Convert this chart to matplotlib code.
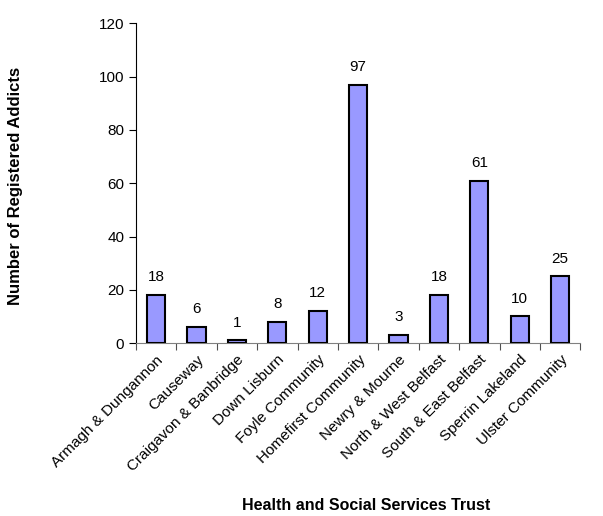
import numpy as np
from matplotlib import pyplot as plt

trusts = ['Armagh & Dungannon', 'Causeway', 'Craigavon & Banbridge', 'Down Lisburn',
          'Foyle Community', 'Homefirst Community', 'Newry & Mourne', 'North & West Belfast',
          'South & East Belfast', 'Sperrin Lakeland', 'Ulster Community']
addicts = [18, 6, 1, 8, 12, 97, 3, 18, 61, 10, 25]

plt.rcParams['font.family'] = ['Liberation Sans', 'DejaVu Sans']

fig = plt.figure(figsize=(6.03, 5.16), dpi=100)
ax = fig.add_axes([0.2255, 0.335, 0.737, 0.62])

x = np.arange(len(trusts))
ax.bar(x, addicts, width=0.45, color='#9999ff', edgecolor='black', linewidth=1.5, zorder=3)
for xi, v in zip(x, addicts):
    ax.text(xi, v + 4, str(v), ha='center', va='bottom', fontsize=11)

ax.set_xlim(-0.5, len(trusts) - 0.5)
ax.set_ylim(0, 120)
ax.set_yticks(range(0, 121, 20))
ax.set_xticks(x)
ax.set_xticklabels(trusts, rotation=45, ha='right', rotation_mode='anchor', fontsize=11)
ax.set_xticks(np.arange(-0.5, len(trusts), 1), minor=True)
ax.tick_params(axis='x', which='major', length=0, pad=7)
ax.tick_params(axis='x', which='minor', length=5, direction='out', width=0.8, color='#505050')
ax.tick_params(axis='y', length=5, direction='out', labelsize=11, width=0.8)
ax.spines['top'].set_visible(False)
ax.spines['right'].set_visible(False)
ax.spines['left'].set_linewidth(0.8)
ax.spines['bottom'].set_color('#808080')

fig.text(0.026, 0.64, 'Number of Registered Addicts', rotation=90, ha='center', va='center',
         fontweight='bold', fontsize=12)
fig.text(0.607, 0.006, 'Health and Social Services Trust', ha='center', va='bottom',
         fontweight='bold', fontsize=11.5)

fig.savefig('out.png', dpi=100)
